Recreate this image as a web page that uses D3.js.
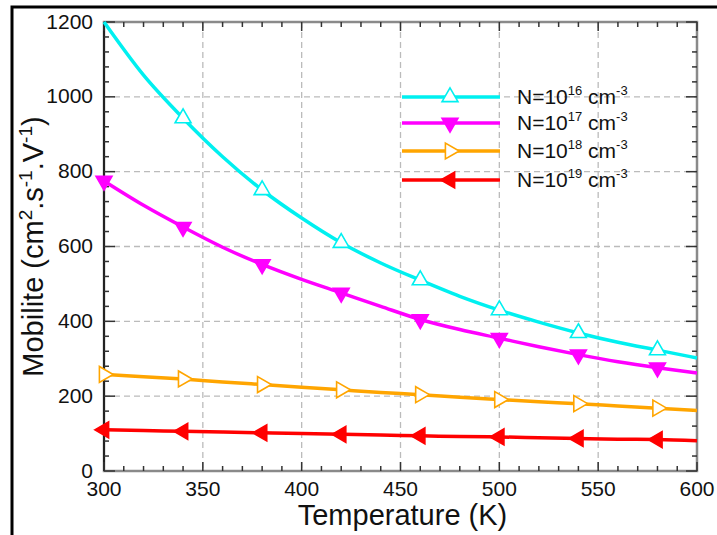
<!DOCTYPE html>
<html><head><meta charset="utf-8">
<script src="https://cdn.jsdelivr.net/npm/d3@7"></script>
<style>body{margin:0;background:#fff}svg{display:block}text{font-family:"Liberation Sans",Arial,sans-serif}</style>
</head><body>
<svg id="c" width="717" height="535"></svg>
<script>
// ---- data ----
const temps = [300,320,340,360,380,400,420,440,460,480,500,520,540,560,580,600];
const mobN16 = [1200,1058,943,840,751,676,610,556,510,467,430,398,369,344,323,302];
const mobN17 = [775,710,652,598,552,512,476,440,405,378,355,332,311,292,276,262];
const mobN18 = [258,252,246,238,231,224,217,210,204,197,191,185,180,174,168,162];
const mobN19 = [110,108,106,104,102,100,98,96,94,92,91,89,87,85,84,81];
const seriesNames = ["16","17","18","19"];
const markerTemps = [300,340,380,420,460,500,540,580];
const xTicks = [300,350,400,450,500,550,600];
const yTicks = [0,200,400,600,800,1000,1200];

const colors = ["#00f0f0","#ff00ff","#ffa500","#ff0000"];
const series = [mobN16,mobN17,mobN18,mobN19].map((v,i)=>({name:seriesNames[i],values:v,color:colors[i],idx:i}));

const svg = d3.select("#c");
const L=104,R=697,T=22,B=471;
const x = d3.scaleLinear().domain([300,600]).range([L,R]);
const y = d3.scaleLinear().domain([0,1200]).range([B,T]);

// outer frame
svg.append("rect").attr("x",12).attr("y",7).attr("width",730).attr("height",560)
  .attr("fill","none").attr("stroke","#000").attr("stroke-width",3);

// grid
const g = svg.append("g");
g.selectAll(".gx").data(xTicks.filter(d=>d>300&&d<600)).join("line")
  .attr("x1",d=>x(d)).attr("x2",d=>x(d)).attr("y1",T).attr("y2",B)
  .attr("stroke","#bbb").attr("stroke-width",1.3).attr("stroke-dasharray","6,4");
g.selectAll(".gy").data(yTicks.filter(d=>d>0&&d<1200)).join("line")
  .attr("y1",d=>y(d)).attr("y2",d=>y(d)).attr("x1",L).attr("x2",R)
  .attr("stroke","#bbb").attr("stroke-width",1.3).attr("stroke-dasharray","6,4");

// plot frame
svg.append("rect").attr("x",L).attr("y",T).attr("width",R-L).attr("height",B-T)
  .attr("fill","none").attr("stroke","#8a8a8a").attr("stroke-width",2.5);
svg.append("line").attr("x1",L).attr("x2",L).attr("y1",T).attr("y2",B).attr("stroke","#222").attr("stroke-width",2);

// ticks (inward on all sides)
const xMinor = d3.range(300,601,10), yMinor = d3.range(0,1201,40);
const tk = svg.append("g").attr("stroke","#333").attr("stroke-width",1.5);
xMinor.forEach(v=>{
  const len = v%50===0?9:5;
  tk.append("line").attr("x1",x(v)).attr("x2",x(v)).attr("y1",B).attr("y2",B-len);
  tk.append("line").attr("x1",x(v)).attr("x2",x(v)).attr("y1",T).attr("y2",T+len);
});
yMinor.forEach(v=>{
  const len = v%200===0?11:5;
  tk.append("line").attr("y1",y(v)).attr("y2",y(v)).attr("x1",L).attr("x2",L+len);
  tk.append("line").attr("y1",y(v)).attr("y2",y(v)).attr("x1",R).attr("x2",R-len);
});

// tick labels
svg.append("g").selectAll("text").data(xTicks).join("text")
  .attr("x",d=>x(d)).attr("y",496).attr("text-anchor","middle")
  .attr("font-size",21).attr("fill","#111").text(d=>d);
svg.append("g").selectAll("text").data(yTicks).join("text")
  .attr("x",93).attr("y",d=>y(d)+6.5).attr("text-anchor","end")
  .attr("font-size",21).attr("fill","#111").text(d=>d);

// axis titles
svg.append("text").attr("x",(L+R)/2+2).attr("y",525).attr("text-anchor","middle")
  .attr("font-size",29).attr("fill","#111").text("Temperature (K)");
const yl = svg.append("text").attr("transform",`translate(43,${(T+B)/2}) rotate(-90)`)
  .attr("text-anchor","middle").attr("font-size",29).attr("fill","#111");
yl.append("tspan").text("Mobilite (cm");
yl.append("tspan").attr("font-size",19).attr("dy",-11).text("2");
yl.append("tspan").attr("dy",11).text(".s");
yl.append("tspan").attr("font-size",19).attr("dy",-11).text("-1");
yl.append("tspan").attr("dy",11).text(".V");
yl.append("tspan").attr("font-size",19).attr("dy",-11).text("-1");
yl.append("tspan").attr("dy",11).text(")");

// markers
function marker(sel, i, cx, cy){
  const tri = d3.symbol().type(d3.symbolTriangle).size(110)();
  const rot = [0,180,90,-90][i];
  const open = (i===0||i===2);
  sel.append("path").attr("d",tri)
    .attr("transform",`translate(${cx},${cy}) rotate(${rot})`)
    .attr("fill",open?"#fff":colors[i]).attr("stroke",colors[i]).attr("stroke-width",1.6);
}

// lines
const line = d3.line().x((d,i)=>x(temps[i])).y(d=>y(d)).curve(d3.curveMonotoneX);
series.forEach(s=>{
  svg.append("path").attr("d",line(s.values)).attr("fill","none")
    .attr("stroke",s.color).attr("stroke-width",3.5);
});
series.forEach(s=>{
  const mg = svg.append("g");
  markerTemps.forEach(t=>{
    if(s.idx===0 && t===300) return;
    const v = s.values[temps.indexOf(t)];
    marker(mg, s.idx, x(t), y(v));
  });
});

// legend
const legY = [97,123,151,180];
series.forEach((s,i)=>{
  const lg = svg.append("g");
  lg.append("line").attr("x1",402).attr("x2",500).attr("y1",legY[i]).attr("y2",legY[i])
    .attr("stroke",s.color).attr("stroke-width",3.5);
  marker(lg, i, 450, legY[i]);
  const t = lg.append("text").attr("x",517).attr("y",legY[i]+7).attr("font-size",21).attr("fill","#111");
  t.append("tspan").text("N=10");
  t.append("tspan").attr("font-size",13).attr("dy",-9).text(s.name);
  t.append("tspan").attr("dy",9).text(" cm");
  t.append("tspan").attr("font-size",13).attr("dy",-9).text("-3");
});
</script>
</body></html>
